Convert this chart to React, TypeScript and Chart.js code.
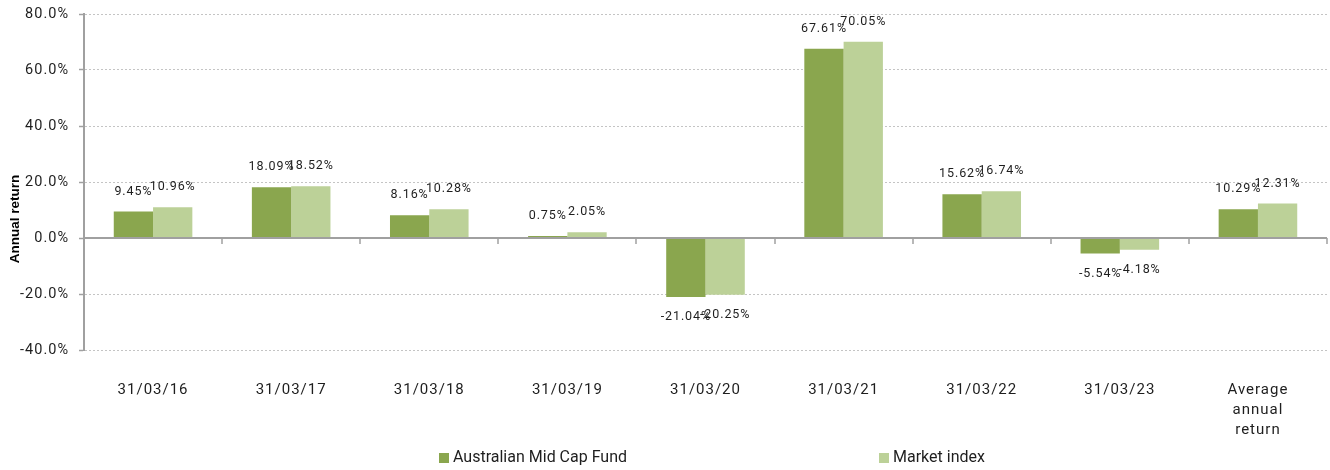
import React, { useEffect, useRef } from "react";
import { Chart, registerables } from "chart.js";

Chart.register(...registerables);

const categories: (string | string[])[] = [
  "31/03/16",
  "31/03/17",
  "31/03/18",
  "31/03/19",
  "31/03/20",
  "31/03/21",
  "31/03/22",
  "31/03/23",
  ["Average", "annual", "return"],
];
const fundValues = [9.45, 18.09, 8.16, 0.75, -21.04, 67.61, 15.62, -5.54, 10.29];
const indexValues = [10.96, 18.52, 10.28, 2.05, -20.25, 70.05, 16.74, -4.18, 12.31];
const seriesNames = ["Australian Mid Cap Fund", "Market index"];
const seriesColors = ["#8aa64e", "#bcd198"];
const yAxisTitle = "Annual return";
const yMin = -40;
const yMax = 80;
const yStep = 20;

const AXIS_COLOR = "#a0a0a0";
const TEXT_COLOR = "#1e1e1e";

const decorPlugin = {
  id: "decor",
  beforeDraw(chart: any) {
    try {
      chart.ctx.letterSpacing = "1px";
    } catch (e) {}
  },
  afterDatasetsDraw(chart: any) {
    const ctx = chart.ctx;
    const area = chart.chartArea;
    const y = chart.scales.y;
    const zeroY = y.getPixelForValue(0);
    ctx.save();
    ctx.strokeStyle = AXIS_COLOR;
    ctx.lineWidth = 2;
    ctx.beginPath();
    ctx.moveTo(area.left, zeroY);
    ctx.lineTo(area.right, zeroY);
    ctx.stroke();
    const n = categories.length;
    const w = (area.right - area.left) / n;
    ctx.lineWidth = 1.5;
    for (let i = 0; i <= n; i++) {
      const px = Math.round(area.left + i * w);
      ctx.beginPath();
      ctx.moveTo(px, zeroY);
      ctx.lineTo(px, zeroY + 6);
      ctx.stroke();
    }
    try {
      ctx.letterSpacing = "0.9px";
    } catch (e) {}
    ctx.font = "12.5px Roboto";
    ctx.fillStyle = TEXT_COLOR;
    ctx.textAlign = "center";
    ctx.textBaseline = "middle";
    chart.data.datasets.forEach((ds: any, di: number) => {
      const meta = chart.getDatasetMeta(di);
      meta.data.forEach((bar: any, i: number) => {
        const v = ds.data[i];
        const label = v.toFixed(2) + "%";
        const ly = v >= 0 ? bar.y - 20 : bar.y + 20;
        ctx.fillText(label, bar.x, ly);
      });
    });
    ctx.restore();
  },
  afterDraw(chart: any) {
    const ctx = chart.ctx;
    ctx.save();
    try {
      ctx.letterSpacing = "0px";
    } catch (e) {}
    ctx.translate(15, 219);
    ctx.rotate(-Math.PI / 2);
    ctx.font = "bold 13.5px 'Liberation Sans', Arial";
    ctx.fillStyle = "#000";
    ctx.textAlign = "center";
    ctx.textBaseline = "middle";
    ctx.fillText(yAxisTitle, 0, 0);
    ctx.restore();

    ctx.save();
    try {
      ctx.letterSpacing = "0px";
    } catch (e) {}
    const legendX = [439, 879];
    ctx.font = "16px Roboto";
    ctx.textBaseline = "middle";
    ctx.textAlign = "left";
    seriesNames.forEach((name, i) => {
      ctx.fillStyle = seriesColors[i];
      ctx.fillRect(legendX[i], 453, 10, 10);
      ctx.fillStyle = TEXT_COLOR;
      ctx.fillText(name, legendX[i] + 14, 458);
    });
    ctx.restore();
  },
};

export default function App() {
  const canvasRef = useRef<HTMLCanvasElement | null>(null);

  useEffect(() => {
    document.body.style.margin = "0";
    const canvas = canvasRef.current;
    if (!canvas) return;
    const chart = new Chart(canvas, {
      type: "bar",
      data: {
        labels: categories,
        datasets: [
          {
            label: seriesNames[0],
            data: fundValues,
            backgroundColor: seriesColors[0],
            barPercentage: 1,
            categoryPercentage: 0.569,
          },
          {
            label: seriesNames[1],
            data: indexValues,
            backgroundColor: seriesColors[1],
            barPercentage: 1,
            categoryPercentage: 0.569,
          },
        ],
      },
      options: {
        responsive: false,
        animation: false,
        layout: { padding: { top: 14, right: 3, left: 0, bottom: 0 } },
        plugins: {
          legend: { display: false },
          tooltip: { enabled: false },
        },
        scales: {
          x: {
            grid: { display: false, drawTicks: false },
            border: { display: false },
            ticks: {
              color: TEXT_COLOR,
              font: { family: "Roboto", size: 15, lineHeight: 1.333 },
              padding: 30,
              maxRotation: 0,
              autoSkip: false,
            },
            afterFit(scale: any) {
              scale.height = 120;
              scale.paddingLeft = 0;
              scale.paddingRight = 0;
            },
          },
          y: {
            min: yMin,
            max: yMax,
            grid: {
              color: (c: any) => (c.tick && c.tick.value === 0 ? "rgba(0,0,0,0)" : "#c4c4c4"),
              lineWidth: 1,
              tickColor: AXIS_COLOR,
              tickLength: 5,
              tickWidth: 1.5,
            },
            border: { display: true, color: AXIS_COLOR, width: 2, dash: [2, 2] },
            ticks: {
              stepSize: yStep,
              color: TEXT_COLOR,
              font: { family: "Roboto", size: 14.5 },
              padding: 10,
              callback: (v: any) => Number(v).toFixed(1) + "%",
            },
            afterFit(scale: any) {
              scale.width = 84;
              scale.paddingTop = 0;
              scale.paddingBottom = 0;
            },
          },
        },
      },
      plugins: [decorPlugin],
    });
    return () => chart.destroy();
  }, []);

  return (
    <div style={{ width: 1330, height: 470 }}>
      <canvas ref={canvasRef} width={1330} height={470} />
    </div>
  );
}
